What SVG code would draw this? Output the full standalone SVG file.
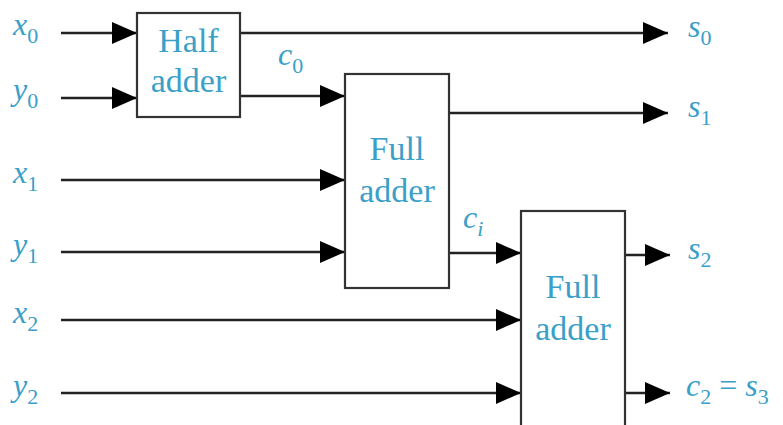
<svg xmlns="http://www.w3.org/2000/svg" width="783" height="425" viewBox="0 0 783 425">
<defs>
<marker id="arr" markerUnits="userSpaceOnUse" markerWidth="25" markerHeight="22" refX="25" refY="11" orient="auto">
<path d="M0,0 L25,11 L0,22 Z" fill="#000"/>
</marker>
<style>
.box{fill:#fff;stroke:#333;stroke-width:2.2}
.w{fill:none;stroke:#222;stroke-width:2.4;marker-end:url(#arr)}
.bt{font-family:'Liberation Serif','Times New Roman','DejaVu Serif',serif;font-size:34px;fill:#3aa0c8;text-anchor:middle}
.lb{font-family:'Liberation Serif','Times New Roman','DejaVu Serif',serif;font-size:32px;font-style:italic;fill:#3aa0c8}
.sb{font-size:22px;font-style:normal}
.si{font-size:22px;font-style:italic}
.up{font-style:normal}
</style>
</defs>
<rect width="783" height="425" fill="#fff"/>
<g id="connectors">
<path class="w" d="M61,33 H137"/>
<path class="w" d="M61,98 H137"/>
<path class="w" d="M240,33 H668"/>
<path class="w" d="M240,96 H345"/>
<path class="w" d="M449,113 H668"/>
<path class="w" d="M61,180 H345"/>
<path class="w" d="M61,252 H345"/>
<path class="w" d="M449,253 H521"/>
<path class="w" d="M61,320 H521"/>
<path class="w" d="M61,393 H521"/>
<path class="w" d="M625,255 H670"/>
<path class="w" d="M625,393 H670"/>
</g>
<g id="half-adder">
<rect class="box" x="137" y="13" width="103" height="104"/>
<text class="bt" x="188.5" y="52">Half</text>
<text class="bt" x="188.5" y="92">adder</text>
</g>
<g id="full-adder-1">
<rect class="box" x="345" y="74" width="104" height="214"/>
<text class="bt" x="397" y="160">Full</text>
<text class="bt" x="397" y="202">adder</text>
</g>
<g id="full-adder-2">
<rect class="box" x="521" y="211" width="104" height="222"/>
<text class="bt" x="573" y="298">Full</text>
<text class="bt" x="573" y="340">adder</text>
</g>
<g id="labels">
<text class="lb" x="13" y="35">x<tspan class="sb" dy="8">0</tspan></text>
<text class="lb" x="13" y="100">y<tspan class="sb" dy="8">0</tspan></text>
<text class="lb" x="13" y="183">x<tspan class="sb" dy="8">1</tspan></text>
<text class="lb" x="13" y="255">y<tspan class="sb" dy="8">1</tspan></text>
<text class="lb" x="13" y="323">x<tspan class="sb" dy="8">2</tspan></text>
<text class="lb" x="13" y="396">y<tspan class="sb" dy="8">2</tspan></text>
<text class="lb" x="278" y="65">c<tspan class="sb" dy="8">0</tspan></text>
<text class="lb" x="463" y="228">c<tspan class="si" dy="8">i</tspan></text>
<text class="lb" x="688" y="37">s<tspan class="sb" dy="8">0</tspan></text>
<text class="lb" x="688" y="117">s<tspan class="sb" dy="8">1</tspan></text>
<text class="lb" x="688" y="259">s<tspan class="sb" dy="8">2</tspan></text>
<text class="lb" x="686" y="396">c<tspan class="sb" dy="8">2</tspan><tspan class="up" dy="-8"> = </tspan>s<tspan class="sb" dy="8">3</tspan></text>
</g>
</svg>
